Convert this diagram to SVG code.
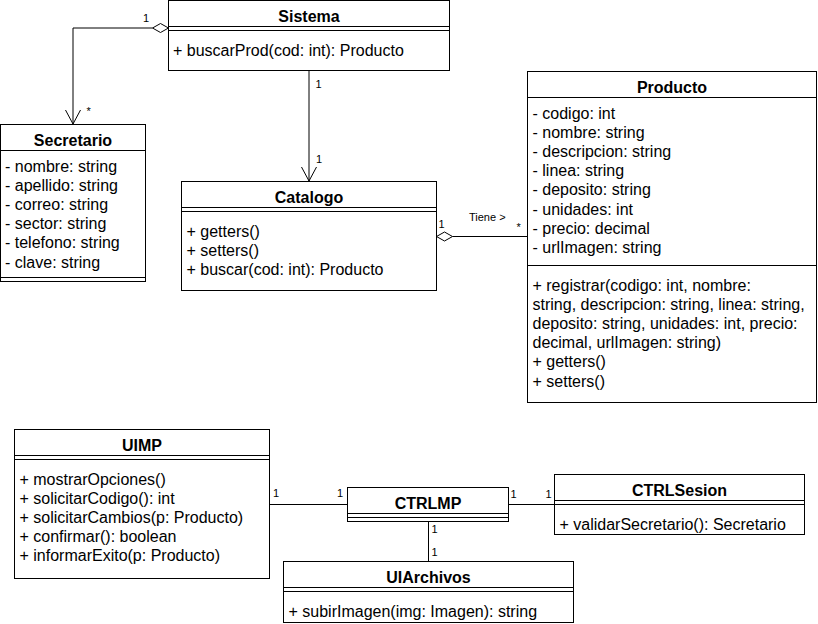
<svg xmlns="http://www.w3.org/2000/svg" width="818" height="624" viewBox="0 0 818 624">
  <style>
    .box{fill:#fff;stroke:#000;stroke-width:1}
    .ln{stroke:#000;stroke-width:1;fill:none}
    .t{font-family:"Liberation Sans",Arial,Helvetica,sans-serif;font-size:16px;fill:#000}
    .h{font-weight:bold;text-anchor:middle}
    .m{font-family:"Liberation Sans",Arial,Helvetica,sans-serif;font-size:11px;fill:#000}
    .dia{fill:#fff;stroke:#000;stroke-width:1}
  </style>
  <rect width="818" height="624" fill="#fff"/>

  <!-- connectors -->
  <g id="connectors">
    <!-- Sistema aggregates Secretario -->
    <path class="ln" d="M152.5 28 H73 V124"/>
    <polyline class="ln" points="65.5,110 73,124 80.5,110"/>
    <polygon class="dia" points="168.5,28 160.5,23.5 152.5,28 160.5,32.5"/>
    <text class="m" x="143" y="22">1</text>
    <text class="m" x="86.5" y="115">*</text>
    <!-- Sistema -> Catalogo -->
    <path class="ln" d="M309 70.5 V181"/>
    <polyline class="ln" points="301.5,167 309,181 316.5,167"/>
    <text class="m" x="315.5" y="88">1</text>
    <text class="m" x="316" y="163">1</text>
    <!-- Catalogo aggregates Producto -->
    <path class="ln" d="M452.5 236.5 H527.5"/>
    <polygon class="dia" points="436.5,236.5 444.5,232 452.5,236.5 444.5,241"/>
    <text class="m" x="438.5" y="228">1</text>
    <text class="m" x="469" y="221">Tiene &gt;</text>
    <text class="m" x="516.5" y="231">*</text>
    <!-- UIMP - CTRLMP -->
    <path class="ln" d="M269.5 504.5 H347.5"/>
    <text class="m" x="273" y="497">1</text>
    <text class="m" x="337" y="497">1</text>
    <!-- CTRLMP - CTRLSesion -->
    <path class="ln" d="M508.5 504.5 H554.5"/>
    <text class="m" x="510.5" y="498">1</text>
    <text class="m" x="545.5" y="498">1</text>
    <!-- CTRLMP - UIArchivos -->
    <path class="ln" d="M428.5 521.5 V561.5"/>
    <text class="m" x="431.5" y="533">1</text>
    <text class="m" x="431.5" y="556">1</text>
  </g>

  <g id="Sistema">
    <rect class="box" x="168.5" y="0.5" width="281" height="70"/>
    <path class="ln" d="M168.5 26.5 H449.5 M168.5 30.5 H449.5"/>
    <text class="t h" x="309" y="22">Sistema</text>
    <text class="t" x="173" y="55.5">+ buscarProd(cod: int): Producto</text>
  </g>

  <g id="Secretario">
    <rect class="box" x="0.5" y="124.5" width="145" height="157"/>
    <path class="ln" d="M0.5 150.5 H145.5 M0.5 277.5 H145.5"/>
    <text class="t h" x="73" y="146">Secretario</text>
    <text class="t" x="5">
      <tspan x="5" y="171.5">- nombre: string</tspan>
      <tspan x="5" y="190.7">- apellido: string</tspan>
      <tspan x="5" y="209.9">- correo: string</tspan>
      <tspan x="5" y="229.1">- sector: string</tspan>
      <tspan x="5" y="248.3">- telefono: string</tspan>
      <tspan x="5" y="267.5">- clave: string</tspan>
    </text>
  </g>

  <g id="Catalogo">
    <rect class="box" x="181.5" y="181.5" width="255" height="109"/>
    <path class="ln" d="M181.5 207.5 H436.5 M181.5 211.5 H436.5"/>
    <text class="t h" x="309" y="203">Catalogo</text>
    <text class="t">
      <tspan x="186.5" y="236.5">+ getters()</tspan>
      <tspan x="186.5" y="255.7">+ setters()</tspan>
      <tspan x="186.5" y="274.9">+ buscar(cod: int): Producto</tspan>
    </text>
  </g>

  <g id="Producto">
    <rect class="box" x="527.5" y="71.5" width="289" height="331"/>
    <path class="ln" d="M527.5 97.5 H816.5 M527.5 265.5 H816.5"/>
    <text class="t h" x="672" y="93">Producto</text>
    <text class="t">
      <tspan x="532.5" y="118.5">- codigo: int</tspan>
      <tspan x="532.5" y="137.7">- nombre: string</tspan>
      <tspan x="532.5" y="156.9">- descripcion: string</tspan>
      <tspan x="532.5" y="176.1">- linea: string</tspan>
      <tspan x="532.5" y="195.3">- deposito: string</tspan>
      <tspan x="532.5" y="214.5">- unidades: int</tspan>
      <tspan x="532.5" y="233.7">- precio: decimal</tspan>
      <tspan x="532.5" y="252.9">- urlImagen: string</tspan>
    </text>
    <text class="t">
      <tspan x="532.5" y="290.5">+ registrar(codigo: int, nombre:</tspan>
      <tspan x="532.5" y="309.7">string, descripcion: string, linea: string,</tspan>
      <tspan x="532.5" y="328.9">deposito: string, unidades: int, precio:</tspan>
      <tspan x="532.5" y="348.1">decimal, urlImagen: string)</tspan>
      <tspan x="532.5" y="367.3">+ getters()</tspan>
      <tspan x="532.5" y="386.5">+ setters()</tspan>
    </text>
  </g>

  <g id="UIMP">
    <rect class="box" x="14.5" y="429.5" width="255" height="149"/>
    <path class="ln" d="M14.5 455.5 H269.5 M14.5 459.5 H269.5"/>
    <text class="t h" x="142" y="451">UIMP</text>
    <text class="t">
      <tspan x="19.5" y="484.5">+ mostrarOpciones()</tspan>
      <tspan x="19.5" y="503.7">+ solicitarCodigo(): int</tspan>
      <tspan x="19.5" y="522.9">+ solicitarCambios(p: Producto)</tspan>
      <tspan x="19.5" y="542.1">+ confirmar(): boolean</tspan>
      <tspan x="19.5" y="561.3">+ informarExito(p: Producto)</tspan>
    </text>
  </g>

  <g id="CTRLMP">
    <rect class="box" x="347.5" y="487.5" width="161" height="34"/>
    <path class="ln" d="M347.5 513.5 H508.5 M347.5 517.5 H508.5"/>
    <text class="t h" x="428" y="509">CTRLMP</text>
  </g>

  <g id="CTRLSesion">
    <rect class="box" x="554.5" y="474.5" width="250" height="60"/>
    <path class="ln" d="M554.5 500.5 H804.5 M554.5 504.5 H804.5"/>
    <text class="t h" x="679.5" y="496">CTRLSesion</text>
    <text class="t" x="559.5" y="529.5">+ validarSecretario(): Secretario</text>
  </g>

  <g id="UIArchivos">
    <rect class="box" x="283.5" y="561.5" width="290" height="61"/>
    <path class="ln" d="M283.5 587.5 H573.5 M283.5 591.5 H573.5"/>
    <text class="t h" x="428.5" y="583">UIArchivos</text>
    <text class="t" x="288.5" y="616.5">+ subirImagen(img: Imagen): string</text>
  </g>
</svg>
